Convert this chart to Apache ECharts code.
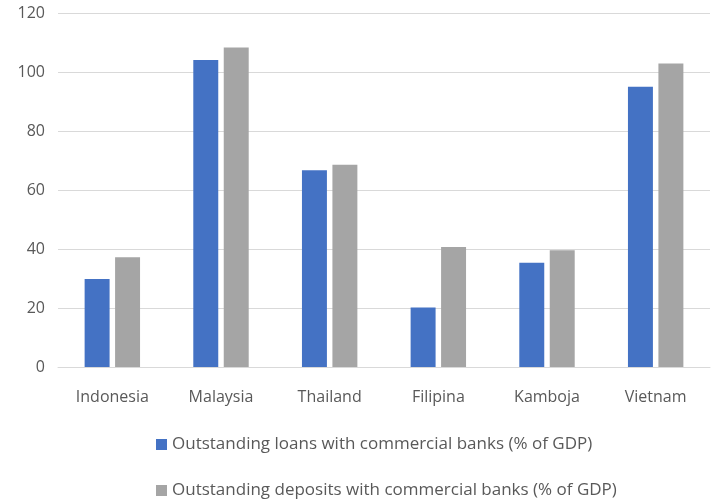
<!DOCTYPE html>
<html>
<head>
<meta charset="utf-8">
<script src="https://cdn.jsdelivr.net/npm/echarts@6/dist/echarts.min.js"></script>
<style>
  html, body { margin: 0; padding: 0; background: #fff; }
  #chart { width: 711px; height: 500px; }
</style>
</head>
<body>
<div id="chart"></div>
<script>
// Commercial bank loans and deposits relative to GDP, by country
const countries = ['Indonesia', 'Malaysia', 'Thailand', 'Filipina', 'Kamboja', 'Vietnam'];
const loans = [29.8, 104.1, 66.7, 20.2, 35.3, 95.0];
const deposits = [37.2, 108.3, 68.6, 40.7, 39.6, 102.9];
const loansName = 'Outstanding loans with commercial banks (% of GDP)';
const depositsName = 'Outstanding deposits with commercial banks (% of GDP)';

const font = '"Open Sans", "Noto Sans", sans-serif';
const textColor = '#595959';
const legendBase = {
  orient: 'horizontal',
  left: 151,
  itemWidth: 11,
  itemHeight: 11,
  icon: 'rect',
  textStyle: { color: textColor, fontSize: 17, fontFamily: font }
};

const chart = echarts.init(document.getElementById('chart'));
chart.setOption({
  animation: false,
  textStyle: { fontFamily: font },
  grid: { left: 58, right: 1, top: 13, bottom: 133, containLabel: false },
  legend: [
    Object.assign({}, legendBase, { top: 431, data: [loansName] }),
    Object.assign({}, legendBase, { top: 477, data: [depositsName] })
  ],
  xAxis: {
    type: 'category',
    data: countries,
    axisLine: { lineStyle: { color: '#D9D9D9' } },
    axisTick: { show: false },
    axisLabel: { color: textColor, fontSize: 16, margin: 22, fontFamily: font }
  },
  yAxis: {
    type: 'value',
    min: 0,
    max: 120,
    interval: 20,
    axisLine: { show: false },
    axisTick: { show: false },
    axisLabel: { color: textColor, fontSize: 16, margin: 13, fontFamily: font },
    splitLine: { lineStyle: { color: '#D9D9D9', width: 1 } }
  },
  series: [
    {
      name: loansName,
      type: 'bar',
      data: loans,
      itemStyle: { color: '#4472C4' },
      barGap: '22%',
      barCategoryGap: '49%'
    },
    {
      name: depositsName,
      type: 'bar',
      data: deposits,
      itemStyle: { color: '#A5A5A5' }
    }
  ]
});
</script>
</body>
</html>
